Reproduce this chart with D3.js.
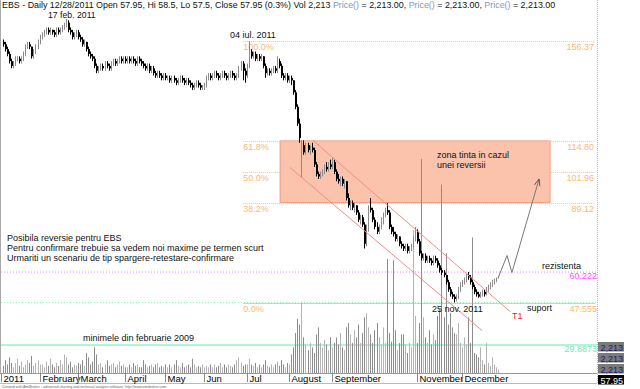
<!DOCTYPE html>
<html>
<head>
<meta charset="utf-8">
<script src="https://cdn.jsdelivr.net/npm/d3@7"></script>
<style>
  body { margin: 0; background: #fff; }
  svg { display: block; font-family: Arial, "Liberation Sans", sans-serif; }
</style>
</head>
<body>
<div id="chart"></div>
<script>
// daily bars [open, high, low, close], one array per month
const jan = [[156,157,154,155],[155,156,152,153],[153,154,150,151],[151,152,147,148],[148,149,145,146],[146,148,145,147],[147,150,146,149],[149,150,148,149],[149,150,147,148],[148,150,147,149],[149,152,148,151],[151,155,150,154],[154,156,153,155],[155,156,153,154],[154,154,149,150],[150,153,149,152],[152,155,151,154],[154,157,153,156],[156,159,155,158]];
const feb = [[158,160,157,159],[159,161,158,160],[160,162,159,161],[161,162,159,160],[160,162,159,161],[161,161,159,160],[160,161,158,159],[159,162,158,161],[161,162,159,160],[160,162,159,161],[161,163,160,162],[162,164,161,163],[163,165.5,162,164],[164,165,160,161],[161,162,159,160],[160,161,157,158],[158,160,157,159],[159,161,158,160],[160,161,157,158]];
const mar = [[158,159,156,157],[157,158,154,155],[155,157,154,156],[156,156,152,153],[153,154,150,151],[151,152,149,150],[150,151,148,149],[149,150,145,146],[146,147,143,144],[144,146,143,145],[145,147,144,146],[146,147,144,145],[145,148,144,147],[147,148,145,146],[146,147,144,145],[145,148,144,147],[147,149,146,148],[148,149,146,147],[147,149,146,148],[148,150,147,149],[149,150,147,148],[148,150,147,149],[149,150,147,148]];
const apr = [[148,150,147,149],[149,150,147,148],[148,150,147,149],[149,150,147,148],[148,149,146,147],[147,150,146,149],[149,150,147,148],[148,149,146,147],[147,148,145,146],[146,147,144,145],[145,147,144,146],[146,147,143,144],[144,146,143,145],[145,146,142,143],[143,144,141,142],[142,144,141,143],[143,144,141,142],[142,143,140,141],[141,143,140,142],[142,143,140,141]];
const may = [[141,142,140,141],[141,142,139,140],[140,142,139,141],[141,142,139,140],[140,141,138,139],[139,141,138,140],[140,142,139,141],[141,142,139,140],[140,141,138,139],[139,141,138,140],[140,141,138,139],[139,140,137,138],[138,139,136,137],[137,139,136,138],[138,140,137,139],[139,140,137,138],[138,139,136,137],[137,138,136,137],[137,139,136,138]];
const jun = [[138,142,137,141],[141,143,140,142],[142,143,140,141],[141,143,140,142],[142,144,141,143],[143,144,141,142],[142,143,140,141],[141,143,140,142],[142,144,141,143],[143,144,141,142],[142,143,140,141],[141,143,140,142],[142,144,141,143],[143,144,141,142],[142,143,140,141],[141,143,140,142],[142,146,141,145],[145,148,144,147],[147,148,140,144],[144,145,139,142],[142,147,141,145]];
const jul = [[146,156.37,145,152],[152,153,149,150],[150,152,149,151],[151,152,148,149],[149,151,148,150],[150,151,148,149],[149,151,148,150],[150,150,145,146],[146,147,141,143],[143,145,142,144],[144,145,142,143],[143,145,142,144],[144,146,143,145],[145,146,143,144],[144,150,143,148],[148,149,145,146],[146,147,141,142],[142,143,140,141],[141,143,140,142],[142,143,139,140],[140,142,139,141]];
const aug = [[141,142,138,140],[140,140,134,135],[135,136,128,129],[129,130,121,122],[122,124,114,116],[105,115,99.5,113],[113,115,109,110],[110,114,109,113],[113,114,110,111],[111,113,109,112],[112,114,110,111],[111,112,104,105],[105,106,100,101],[101,102,99,100],[100,102,99,101],[101,103,100,102],[102,105,101,104],[104,106,102,103],[103,106,102,105],[105,107,103,104],[104,108,103,106]];
const sep = [[106,107,101,102],[102,103,98,99],[99,101,97,98],[98,100,96,99],[99,100,96,97],[97,99,95,98],[98,98,90,91],[91,93,87,88],[88,90,86,89],[89,90,86,87],[87,89,85,88],[88,88,84,85],[85,86,81,82],[82,84,80,83],[83,84,79,80],[80,81,70,72],[72,80,71,78],[78,88,77,87],[87,91,85,86],[86,87,81,82],[82,83,78,79]];
const oct = [[79,81,76,77],[77,80,76,79],[79,83,78,82],[82,85,80,84],[84,87,83,86],[86,89,84,85],[85,86,78,79],[79,80,76,77],[77,79,75,76],[76,77,73,74],[74,76,73,75],[75,75,71,72],[72,73,70,71],[71,72,69,70],[70,72,69,71],[71,72,68,69],[69,71,68,70],[70,72,69,71],[71,75,70,74],[74,79,73,77],[77,78,72,73]];
const nov = [[73,74,67,68],[68,69,65,66],[66,68,65,67],[67,68,64,65],[65,67,64,66],[66,67,64,65],[65,66,63,64],[64,67,63,66],[66,67,64,65],[65,66,62,63],[63,64,60,61],[61,62,59,60],[60,61,58,59],[59,59,55,56],[56,57,52,53],[53,54,50,51],[51,52,49,50],[50,51,47.555,49],[49,51,48,50],[50,54,49,53],[53,56,52,55],[55,57,54,56]];
const dec = [[56,58,55,57],[57,59.5,56,59],[59,60.222,57,58],[58,59,55,56],[56,57,53,54],[54,55,51,52],[52,53,50,51],[51,52,49.5,50],[50,52,49.5,51],[51,53,50,52],[52,53,50,51],[51,54,50.5,53],[53,55,52,54],[54,56,53,55],[55,57,54,56],[56,57.5,55,57],[57,58,56,57.5],[57.95,58.5,57.5,57.95]];

// daily volume, thousands of shares
const volume = [
  5,9,6,11,7,4,7,10,5,8,4,6,9,7,12,5,7,9,6,
  6,4,8,5,10,6,4,7,5,9,6,13,11,6,8,4,6,5,7,
  6,9,5,14,11,6,8,18,13,6,7,4,6,9,5,6,7,4,6,8,5,6,4,
  4,6,4,7,5,6,4,4,9,6,4,5,6,4,6,7,4,5,4,6,
  4,6,4,6,9,5,4,7,4,5,6,4,10,6,4,5,4,6,4,
  5,4,6,4,6,4,5,7,4,6,4,6,5,4,6,9,11,7,5,6,6,
  10,6,5,7,4,6,4,6,9,5,4,6,4,6,8,5,9,6,4,7,6,
  13,18,28,38,34,50,25,20,16,21,18,14,27,32,21,18,23,20,16,25,18,
  21,25,20,28,18,16,32,35,27,21,30,25,34,21,28,39,42,32,27,21,30,
  35,25,20,32,21,80,28,22,79,30,16,21,27,27,20,14,21,18,100,40,21,
  35,150,39,25,21,30,20,27,23,40,45,132,39,84,34,42,32,28,27,35,21,18,
  25,20,39,21,95,14,13,11,18,9,6,21,7,5,11,6,4,2.213
];

const monthNames = ['2011', 'February', 'March', 'April', 'May', 'Jun', 'Jul', 'August', 'September', '', 'November', 'December'];
const monthStart = [0, 19, 38, 61, 81, 100, 121, 142, 163, 184, 205, 227];

// fibonacci retracement, 04 jul high to 25 nov low
const fibHigh = 156.37;
const fibLow = 47.555;
const fibLevels = [1, 0.618, 0.5, 0.382, 0];
const resistance = 60.222;
const support = 47.555;
const low2009 = 29.8873;

// trendlines [barIndex, price]
const channelTop = [[152.7, 115], [249.8, 43.8]];
const channelBottom = [[141.4, 103.7], [236, 35.9]];
const scenario = [[244, 57.95], [248.3, 67.1], [250.7, 60], [264, 98.7]];

const bars = [].concat(jan, feb, mar, apr, may, jun, jul, aug, sep, oct, nov, dec)
  .map((d, i) => ({ i, o: d[0], h: d[1], l: d[2], c: d[3], v: volume[i] }));

const W = 640, H = 389;
const plotRight = 597, axisY = 373;

const svg = d3.select('#chart').append('svg').attr('width', W).attr('height', H);

const x = d3.scaleLinear().domain([0, 292]).range([3, 3 + 292 * 2.03]);
const y = d3.scaleLinear().domain([fibLow, fibHigh]).range([302.5, 41]);
const yv = d3.scaleLinear().domain([0, 150]).range([axisY, 159]);

// frame
svg.append('line').attr('x1', 0.5).attr('x2', 0.5).attr('y1', 0).attr('y2', axisY).attr('stroke', '#aaa');
svg.append('line').attr('x1', plotRight + 0.5).attr('x2', plotRight + 0.5).attr('y1', 0).attr('y2', 384)
  .attr('stroke', '#bbb').attr('stroke-dasharray', '1,1');

// target zone between 61.8% and 38.2%
const lvl = f => fibLow + (fibHigh - fibLow) * f;
svg.append('rect')
  .attr('x', x(136.5)).attr('width', x(269.5) - x(136.5))
  .attr('y', y(lvl(0.618))).attr('height', y(lvl(0.382)) - y(lvl(0.618)))
  .attr('fill', '#fbc3ac').attr('stroke', '#f29a7f');

// horizontal levels
svg.append('line').attr('x1', 1).attr('x2', plotRight).attr('y1', y(resistance)).attr('y2', y(resistance))
  .attr('stroke', '#ff7fff').attr('stroke-dasharray', '1,2');
svg.append('line').attr('x1', 1).attr('x2', plotRight).attr('y1', y(support)).attr('y2', y(support))
  .attr('stroke', '#7fffaa').attr('stroke-dasharray', '1,2');
svg.append('line').attr('x1', 1).attr('x2', plotRight).attr('y1', y(low2009)).attr('y2', y(low2009))
  .attr('stroke', '#8ff5c8').attr('stroke-width', 1.5);

// fib lines
const fib = svg.append('g');
fibLevels.forEach(f => {
  const yy = Math.round(y(lvl(f))) + 0.5;
  fib.append('line').attr('x1', x(118.3)).attr('x2', 595).attr('y1', yy).attr('y2', yy)
    .attr('stroke', '#fbc58c').attr('stroke-dasharray', f === 0 ? null : '1,1');
  fib.append('text').attr('x', x(118.3)).attr('y', yy + 8).attr('font-size', 9).attr('fill', '#f8b878')
    .text(d3.format('.1f')(f * 100) + '%');
  fib.append('text').attr('x', f > 0 ? 594 : 597).attr('y', yy + 8).attr('font-size', 9).attr('fill', '#f8b878')
    .attr('text-anchor', 'end').text(f > 0 ? d3.format('.2f')(lvl(f)) : d3.format('.3f')(lvl(f)));
});

// volume
svg.append('g').selectAll('line').data(bars).join('line')
  .attr('x1', d => Math.round(x(d.i)) + 0.5).attr('x2', d => Math.round(x(d.i)) + 0.5)
  .attr('y1', axisY).attr('y2', d => yv(d.v))
  .attr('stroke', d => d.c >= d.o ? '#b4b4b4' : '#8c8c8c');

// candles
const cg = svg.append('g');
cg.selectAll('line').data(bars).join('line')
  .attr('x1', d => Math.round(x(d.i)) + 0.5).attr('x2', d => Math.round(x(d.i)) + 0.5)
  .attr('y1', d => y(d.h)).attr('y2', d => y(d.l))
  .attr('stroke', d => d.c >= d.o ? '#8a8a8a' : '#000');
cg.selectAll('rect').data(bars.filter(d => d.c < d.o)).join('rect')
  .attr('x', d => Math.round(x(d.i))).attr('width', 2)
  .attr('y', d => y(d.o)).attr('height', d => Math.max(1, y(d.c) - y(d.o)))
  .attr('fill', '#000');

// channel and scenario
const line = d3.line().x(d => x(d[0])).y(d => y(d[1]));
svg.append('path').attr('d', line(channelTop)).attr('stroke', '#f28c8c').attr('fill', 'none');
svg.append('path').attr('d', line(channelBottom)).attr('stroke', '#f28c8c').attr('fill', 'none');
svg.append('defs').append('marker').attr('id', 'arr').attr('viewBox', '0 0 10 10')
  .attr('refX', 9).attr('refY', 5).attr('markerWidth', 7).attr('markerHeight', 7).attr('orient', 'auto')
  .append('path').attr('d', 'M0,1L10,5L0,9').attr('fill', 'none').attr('stroke', '#333');
svg.append('path').attr('d', line(scenario)).attr('stroke', '#777').attr('fill', 'none')
  .attr('marker-end', 'url(#arr)');

// annotations
const note = (tx, ty, str, color) => svg.append('text').attr('x', tx).attr('y', ty)
  .attr('font-size', 9).attr('fill', color || '#111').text(str);
note(48, 18.3, '17 feb. 2011').attr('font-size', 8.7);
note(230, 38, '04 iul. 2011');
note(437, 158, 'zona tinta in cazul');
note(437, 168, 'unei reversii');
note(7, 241, 'Posibila reversie pentru EBS');
note(7, 251, 'Pentru confirmare trebuie sa vedem noi maxime pe termen scurt');
note(7, 261, 'Urmariti un scenariu de tip spargere-retestare-confirmare');
note(83, 341, 'minimele din februarie 2009');
note(432, 312, '25 nov. 2011');
note(542, 269, 'rezistenta');
note(527, 311, 'suport');
note(512, 319, 'T1', '#ff2020');

svg.append('text').attr('x', 597).attr('y', y(resistance) + 7).attr('text-anchor', 'end')
  .attr('font-size', 9).attr('fill', '#ff50ff').text(d3.format('.3f')(resistance));
svg.append('text').attr('x', 597).attr('y', y(low2009) + 7).attr('text-anchor', 'end')
  .attr('font-size', 9).attr('fill', '#6fe8b8').text(d3.format('.4f')(low2009));

// header
const hdr = svg.append('text').attr('x', 2).attr('y', 8.2).attr('font-size', 8.9).attr('fill', '#111');
hdr.append('tspan').text('EBS - Daily 12/28/2011 Open 57.95, Hi 58.5, Lo 57.5, Close 57.95 (0.3%) Vol 2,213 ');
for (let k = 0; k < 3; k++) {
  hdr.append('tspan').attr('fill', '#8a94c0').text('Price()');
  hdr.append('tspan').text(' = 2,213.00' + (k < 2 ? ', ' : ''));
}

// right value boxes
const boxes = [['2,213', '#7a7a7a', '#1a1a6a'], ['2,213', '#7a7a7a', '#1a1a6a'], ['2,213', '#7a7a7a', '#1a1a6a'], ['57.95', '#000', '#fff']];
boxes.forEach((b, k) => {
  const by = 342 + k * 11;
  svg.append('rect').attr('x', 598).attr('y', by).attr('width', 26).attr('height', 9.5).attr('fill', b[1]);
  svg.append('text').attr('x', 623).attr('y', by + 8.5).attr('text-anchor', 'end')
    .attr('font-size', 9).attr('fill', b[2]).text(b[0]);
});

// x axis
svg.append('line').attr('x1', 0).attr('x2', plotRight).attr('y1', axisY + 0.5).attr('y2', axisY + 0.5).attr('stroke', '#999');
svg.append('line').attr('x1', 0).attr('x2', plotRight).attr('y1', 383.5).attr('y2', 383.5).attr('stroke', '#bbb');
const ax = svg.append('g');
monthStart.forEach((s, k) => {
  if (!monthNames[k]) return;
  const tx = Math.round(x(s)) - 1.5;
  ax.append('line').attr('x1', tx).attr('x2', tx).attr('y1', axisY).attr('y2', 382).attr('stroke', '#888');
  ax.append('text').attr('x', tx + 2).attr('y', 381.5).attr('font-size', 9.5).attr('fill', '#000').text(monthNames[k]);
});
svg.append('text').attr('x', 2).attr('y', 388).attr('font-size', 3.6).attr('fill', '#666')
  .text('Created with AmiBroker - advanced charting and technical analysis software. http://www.amibroker.com');
</script>
</body>
</html>
